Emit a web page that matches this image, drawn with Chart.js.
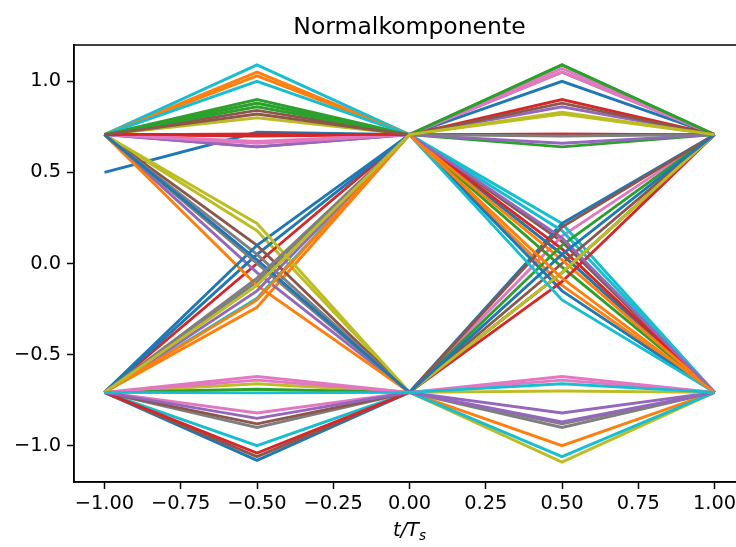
<!DOCTYPE html>
<html><head><meta charset="utf-8">
<script src="https://cdn.jsdelivr.net/npm/chart.js@4.4.1/dist/chart.umd.min.js"></script>
<style>
html,body{margin:0;padding:0;background:#fff;overflow:hidden;width:736px;height:547px}
#wrap{position:absolute;left:0;top:0;width:760px;height:547px}
</style>
</head><body>
<div id="wrap"><canvas id="c" width="760" height="547"></canvas></div>
<script>
// chart title and axis label
const chartTitle = 'Normalkomponente';
// sample times (t/Ts) of each eye trace
const tValues = [-1, -0.5, 0, 0.5, 1];
// trace values at each sample time (one entry per trace)
const yAtMinus1 = [0.50,0.707,0.707,0.707,0.707,0.707,-0.707,-0.707,0.707,0.707,
  -0.707,-0.707,0.707,-0.707,0.707,-0.707,-0.707,-0.707,0.707,-0.707,
  -0.707,0.707,0.707,0.707,-0.707,0.707,0.707,0.707,-0.707,-0.707,
  -0.707,0.707,-0.707,-0.707,0.707,-0.707,0.707,0.707,0.707,0.707,
  0.707,-0.707,0.707,0.707,-0.707,0.707,-0.707,-0.707,-0.707,-0.707];
const yAtMinusHalf = [0.72,1.05,0.90,0.71,0.64,0.84,-0.82,-0.90,0.18,1.09,
  -1.08,-0.24,0.88,0.00,-0.05,-1.06,-0.62,-0.10,0.80,-0.19,
  0.05,-0.12,0.86,0.70,-0.15,0.10,0.67,0.05,-0.66,-1.00,
  0.10,1.03,-0.69,-1.04,0.64,-0.88,0.66,0.00,0.22,1.00,
  0.02,-0.20,0.88,0.71,-0.85,0.82,-0.64,-0.08,-0.12,-0.71];
const yAtZero = [0.707,0.707,0.707,0.707,0.707,0.707,-0.707,-0.707,-0.707,0.707,
  -0.707,0.707,0.707,0.707,-0.707,-0.707,-0.707,0.707,0.707,0.707,
  0.707,-0.707,0.707,0.707,0.707,-0.707,0.707,-0.707,-0.707,-0.707,
  0.707,0.707,-0.707,-0.707,0.707,-0.707,0.707,-0.707,-0.707,0.707,
  -0.707,0.707,0.707,0.707,-0.707,0.707,-0.707,0.707,0.707,-0.707];
const yAtHalf = [1.00,0.05,1.09,0.90,0.86,0.12,0.15,-0.90,-1.09,0.22,
  0.22,-0.12,0.64,0.71,-0.82,-0.05,-0.62,1.05,0.82,0.18,
  0.05,-1.00,-0.02,0.08,0.66,0.00,1.07,-0.05,-0.70,-1.06,
  -0.15,0.02,0.10,-0.10,0.14,0.20,1.05,-0.88,-0.05,-0.20,
  0.05,-0.08,1.09,0.71,-0.87,0.88,-0.64,0.70,0.83,-0.66];
const yAtPlus1 = [0.707,-0.707,0.707,0.707,0.707,-0.707,0.707,-0.707,-0.707,-0.707,
  0.707,-0.707,0.707,0.707,-0.707,0.707,-0.707,0.707,0.707,-0.707,
  -0.707,-0.707,-0.707,-0.707,0.707,0.707,0.707,0.707,-0.707,-0.707,
  -0.707,-0.707,0.707,0.707,-0.707,0.707,0.707,-0.707,0.707,-0.707,
  0.707,-0.707,0.707,0.707,-0.707,0.707,-0.707,0.707,0.707,-0.707];

const xTickValues = [-1.0,-0.75,-0.5,-0.25,0,0.25,0.5,0.75,1.0];
const xTickLabels = ['\u22121.00','\u22120.75','\u22120.50','\u22120.25','0.00','0.25','0.50','0.75','1.00'];
const yTickValues = [-1.0,-0.5,0,0.5,1.0];
const yTickLabels = ['\u22121.0','\u22120.5','0.0','0.5','1.0'];

const palette = ['#1f77b4','#ff7f0e','#2ca02c','#d62728','#9467bd','#8c564b','#e377c2','#7f7f7f','#bcbd22','#17becf'];
const FONT = 'DejaVu Sans';

const columns = [yAtMinus1, yAtMinusHalf, yAtZero, yAtHalf, yAtPlus1];
const datasets = yAtMinus1.map((_, k) => ({
  data: tValues.map((t, i) => ({x: t, y: columns[i][k]})),
  borderColor: palette[k % 10],
  backgroundColor: palette[k % 10],
  borderWidth: 2.9,
  pointRadius: 0,
  tension: 0,
  fill: false,
  order: -k
}));

const framePlugin = {
  id: 'frame',
  afterDraw(chart) {
    const {ctx, chartArea: a} = chart;
    ctx.save();
    ctx.strokeStyle = '#000';
    ctx.lineWidth = 1.5;
    ctx.strokeRect(a.left, a.top, a.right - a.left, a.bottom - a.top);
    const cx = (a.left + a.right) / 2;
    ctx.fillStyle = '#000';
    ctx.textBaseline = 'alphabetic';
    // title centred over the axes
    ctx.font = '23.5px "' + FONT + '"';
    ctx.textAlign = 'center';
    ctx.fillText(chartTitle, cx, a.top - 11.5);
    // x axis label: t/T_s
    const y = 536;
    ctx.font = 'italic 19.4px "' + FONT + '"';
    const main = 't/T';
    const w1 = ctx.measureText(main).width;
    ctx.font = 'italic 13.6px "' + FONT + '"';
    const w2 = ctx.measureText('s').width;
    const x0 = cx - (w1 + w2) / 2;
    ctx.font = 'italic 19.4px "' + FONT + '"';
    ctx.textAlign = 'left';
    ctx.fillText(main, x0, y);
    ctx.font = 'italic 13.6px "' + FONT + '"';
    ctx.fillText('s', x0 + w1, y + 3.5);
    ctx.restore();
  }
};

new Chart(document.getElementById('c'), {
  type: 'line',
  data: {datasets},
  options: {
    responsive: false,
    animation: false,
    layout: {padding: {left: 0, right: 15, top: 45, bottom: 0}},
    plugins: {
      legend: {display: false},
      tooltip: {enabled: false},
      title: {display: false}
    },
    scales: {
      x: {
        type: 'linear',
        min: -1.1, max: 1.1,
        grid: {display: true, drawOnChartArea: false, drawTicks: true, tickLength: 7, tickWidth: 1.5, tickColor: '#000'},
        border: {display: true, color: '#000', width: 1.5},
        ticks: {
          font: {family: FONT, size: 19.4}, color: '#000', padding: 3,
          maxRotation: 0, autoSkip: false,
          callback: (v, i) => xTickLabels[i]
        },
        afterBuildTicks: s => { s.ticks = xTickValues.map(v => ({value: v})); },
        afterFit: s => { s.height = 65; }
      },
      y: {
        type: 'linear',
        min: -1.199, max: 1.199,
        grid: {display: true, drawOnChartArea: false, drawTicks: true, tickLength: 7, tickWidth: 1.5, tickColor: '#000'},
        border: {display: true, color: '#000', width: 1.5},
        ticks: {
          font: {family: FONT, size: 19.4}, color: '#000', padding: 6,
          callback: (v, i) => yTickLabels[i]
        },
        afterBuildTicks: s => { s.ticks = yTickValues.map(v => ({value: v})); },
        afterFit: s => { s.width = 74; }
      }
    }
  },
  plugins: [framePlugin]
});
</script>
</body></html>
